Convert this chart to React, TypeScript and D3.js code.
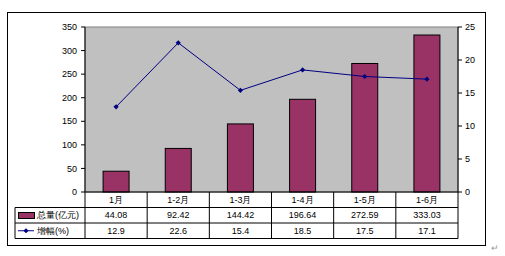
import React from "react";
import * as d3 from "d3";

const categories = ["1月", "1-2月", "1-3月", "1-4月", "1-5月", "1-6月"];
const totals = [44.08, 92.42, 144.42, 196.64, 272.59, 333.03];
const growth = [12.9, 22.6, 15.4, 18.5, 17.5, 17.1];
const leftTicks = [0, 50, 100, 150, 200, 250, 300, 350];
const rightTicks = [0, 5, 10, 15, 20, 25];
const seriesNames = ["总量(亿元)", "增幅(%)"];
const totalLabels = ["44.08", "92.42", "144.42", "196.64", "272.59", "333.03"];
const growthLabels = ["12.9", "22.6", "15.4", "18.5", "17.5", "17.1"];

export default function App() {
  const W = 505, H = 256;
  const left = 85, right = 458, top = 27, bottom = 192;
  const x = d3.scaleBand<string>().domain(categories).range([left, right]).padding(0);
  const yL = d3.scaleLinear().domain([0, 350]).range([bottom, top]);
  const yR = d3.scaleLinear().domain([0, 25]).range([bottom, top]);
  const bw = 26;
  const rows = [192, 207.5, 223, 238.5];
  const font = "'Liberation Sans', Arial, sans-serif";
  const line = d3.line<number>().x((_, i) => x(categories[i])! + x.bandwidth() / 2).y((d) => yR(d));
  const diamond = (cx: number, cy: number, r = 2.6) => `M${cx},${cy - r}L${cx + r},${cy}L${cx},${cy + r}L${cx - r},${cy}Z`;

  return (
    <svg width={W} height={H} style={{ position: "absolute", left: 0, top: 0 }} fontFamily={font} fontSize={9}>
      <rect x={0} y={0} width={W} height={H} fill="#fff" />
      <rect x={7.5} y={12.5} width={478} height={233} fill="#fff" stroke="#000" strokeWidth={1} />
      <rect x={left} y={top} width={right - left} height={bottom - top} fill="#c0c0c0" stroke="#808080" strokeWidth={1} />
      {/* bars */}
      {totals.map((v, i) => {
        const cx = x(categories[i])! + x.bandwidth() / 2;
        return <rect key={i} x={cx - bw / 2} y={yL(v)} width={bw} height={bottom - yL(v)} fill="#993366" stroke="#000" strokeWidth={1} />;
      })}
      {/* line */}
      <path d={line(growth)!} fill="none" stroke="#000080" strokeWidth={1} />
      {growth.map((v, i) => (
        <path key={i} d={diamond(x(categories[i])! + x.bandwidth() / 2, yR(v))} fill="#000080" />
      ))}
      {/* left axis */}
      <line x1={left} x2={left} y1={top} y2={bottom} stroke="#000" />
      {leftTicks.map((t) => (
        <g key={t}>
          <line x1={left - 4} x2={left} y1={yL(t)} y2={yL(t)} stroke="#000" />
          <text x={77} y={yL(t)} dy="0.35em" textAnchor="end">{t}</text>
        </g>
      ))}
      {/* right axis */}
      <line x1={right} x2={right} y1={top} y2={bottom} stroke="#000" />
      {rightTicks.map((t) => (
        <g key={t}>
          <line x1={right} x2={right + 4} y1={yR(t)} y2={yR(t)} stroke="#000" />
          <text x={465} y={yR(t)} dy="0.35em" textAnchor="start">{t}</text>
        </g>
      ))}
      {/* data table */}
      {rows.map((ry, i) => (
        <line key={i} x1={i === 0 ? left : 15} x2={right} y1={ry} y2={ry} stroke="#000" />
      ))}
      <line x1={15} x2={15} y1={rows[1]} y2={rows[3]} stroke="#000" />
      {categories.map((c, i) => (
        <line key={c} x1={x(c)!} x2={x(c)!} y1={rows[0]} y2={rows[3]} stroke="#000" />
      ))}
      <line x1={right} x2={right} y1={rows[0]} y2={rows[3]} stroke="#000" />
      {categories.map((c, i) => {
        const cx = x(c)! + x.bandwidth() / 2;
        return (
          <g key={c}>
            <text x={cx} y={(rows[0] + rows[1]) / 2} dy="0.35em" textAnchor="middle">{c}</text>
            <text x={cx} y={(rows[1] + rows[2]) / 2} dy="0.35em" textAnchor="middle">{totalLabels[i]}</text>
            <text x={cx} y={(rows[2] + rows[3]) / 2} dy="0.35em" textAnchor="middle">{growthLabels[i]}</text>
          </g>
        );
      })}
      {/* legend keys */}
      <rect x={18.5} y={212.5} width={16} height={6} fill="#993366" stroke="#000" />
      <text x={37} y={(rows[1] + rows[2]) / 2} dy="0.35em">{seriesNames[0]}</text>
      <line x1={18} x2={34} y1={(rows[2] + rows[3]) / 2} y2={(rows[2] + rows[3]) / 2} stroke="#000080" />
      <path d={diamond(26, (rows[2] + rows[3]) / 2)} fill="#000080" />
      <text x={37} y={(rows[2] + rows[3]) / 2} dy="0.35em">{seriesNames[1]}</text>
      <text x={491} y={251} fontSize={9} fill="#999">↵</text>
    </svg>
  );
}
